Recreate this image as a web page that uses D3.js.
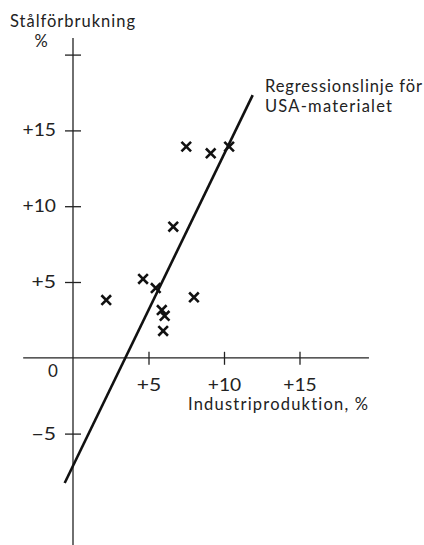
<!DOCTYPE html>
<html>
<head>
<meta charset="utf-8">
<script src="https://cdn.jsdelivr.net/npm/d3@7"></script>
<style>
  html, body { margin: 0; padding: 0; background: #fff; }
  svg { display: block; }
  text { font-family: Lato, "Open Sans", sans-serif; fill: #222; font-variant-ligatures: none; font-feature-settings: "liga" 0; }
</style>
</head>
<body>
<svg id="chart" width="424" height="545"></svg>
<script>
// Data
const industryGrowth = [2.2, 4.64, 5.48, 5.88, 6.07, 5.97, 6.64, 8.01, 7.5, 9.12, 10.34];
const steelGrowth    = [3.81, 5.2, 4.6, 3.15, 2.77, 1.77, 8.65, 3.99, 13.93, 13.49, 13.93];
const regressionX = [-0.55, 11.9];
const regressionY = [-8.26, 17.33];
const yTickValues = [20, 15, 10, 5, -5];
const yTickLabels = ["", "+15", "+10", "+5", "\u22125"];
const xTickValues = [5, 10, 15];
const xTickLabels = ["+5", "+10", "+15"];
const yAxisTitle = ["Stålförbrukning", "%"];
const xAxisTitle = "Industriproduktion,  %";
const lineLabel = ["Regressionslinje för", "USA-materialet"];

const svg = d3.select("#chart");
const x = d3.scaleLinear().domain([0, 15]).range([73, 299.5]);
const y = d3.scaleLinear().domain([0, 15]).range([357.8, 130.4]);
const ink = "#222";
const labelWidth = t => (t.length <= 1 ? null : (t.length === 2 ? 24.5 : 33.5));

// Y axis
svg.append("line")
  .attr("x1", x(0)).attr("x2", x(0))
  .attr("y1", y(21.1)).attr("y2", 545)
  .attr("stroke", ink).attr("stroke-width", 1.3);
const yAxis = d3.axisLeft(y).tickValues(yTickValues)
  .tickFormat((d, i) => yTickLabels[i]).tickSize(8).tickPadding(9);
const gy = svg.append("g").attr("transform", `translate(${x(0)},0)`).call(yAxis);
gy.select(".domain").remove();
gy.selectAll(".tick line").attr("x1", -8).attr("x2", 8).attr("stroke", ink).attr("stroke-width", 1.3);
gy.selectAll(".tick text").attr("font-size", 17).attr("fill", ink)
  .attr("font-family", "Lato, sans-serif").attr("x", -17)
  .each(function (d, i) {
    const w = labelWidth(yTickLabels[i]);
    if (w) d3.select(this).attr("textLength", w).attr("lengthAdjust", "spacingAndGlyphs");
  });

// X axis
svg.append("line")
  .attr("x1", x(-3.3)).attr("x2", x(19.6))
  .attr("y1", y(0)).attr("y2", y(0))
  .attr("stroke", ink).attr("stroke-width", 1.3);
const xAxis = d3.axisBottom(x).tickValues(xTickValues)
  .tickFormat((d, i) => xTickLabels[i]).tickSize(7).tickPadding(14);
const gx = svg.append("g").attr("transform", `translate(0,${y(0)})`).call(xAxis);
gx.select(".domain").remove();
gx.selectAll(".tick line").attr("y1", -6).attr("y2", 7).attr("stroke", ink).attr("stroke-width", 1.3);
gx.selectAll(".tick text").attr("font-size", 17).attr("fill", ink)
  .attr("font-family", "Lato, sans-serif")
  .each(function (d, i) {
    const w = labelWidth(xTickLabels[i]);
    if (w) d3.select(this).attr("textLength", w).attr("lengthAdjust", "spacingAndGlyphs");
  });

// zero label
svg.append("text").attr("x", x(0) - 20).attr("y", y(0) + 19)
  .attr("text-anchor", "middle").attr("font-size", 17).text("0");

// Regression line
svg.append("line")
  .attr("x1", x(regressionX[0])).attr("y1", y(regressionY[0]))
  .attr("x2", x(regressionX[1])).attr("y2", y(regressionY[1]))
  .attr("stroke", "#111").attr("stroke-width", 2.6);

// Points (x markers)
const s = 4.8;
const pts = svg.append("g");
industryGrowth.forEach((v, i) => {
  const cx = x(v), cy = y(steelGrowth[i]);
  pts.append("path")
    .attr("d", `M${cx - s},${cy - s}L${cx + s},${cy + s}M${cx - s},${cy + s}L${cx + s},${cy - s}`)
    .attr("stroke", "#111").attr("stroke-width", 2.6).attr("fill", "none");
});

// Titles
function label(txt, px, py, w, anchor) {
  const t = svg.append("text").attr("x", px).attr("y", py).attr("font-size", 16.5)
    .attr("text-anchor", anchor || "start").text(txt);
  if (w) t.attr("textLength", w).attr("lengthAdjust", "spacing");
  return t;
}
label(yAxisTitle[0], 10, 27, 125);
label(yAxisTitle[1], 41, 47, null, "middle");
label(xAxisTitle, 188, 410, 180);
label(lineLabel[0], 265, 92, 157);
label(lineLabel[1], 265, 112, 127);
</script>
</body>
</html>
